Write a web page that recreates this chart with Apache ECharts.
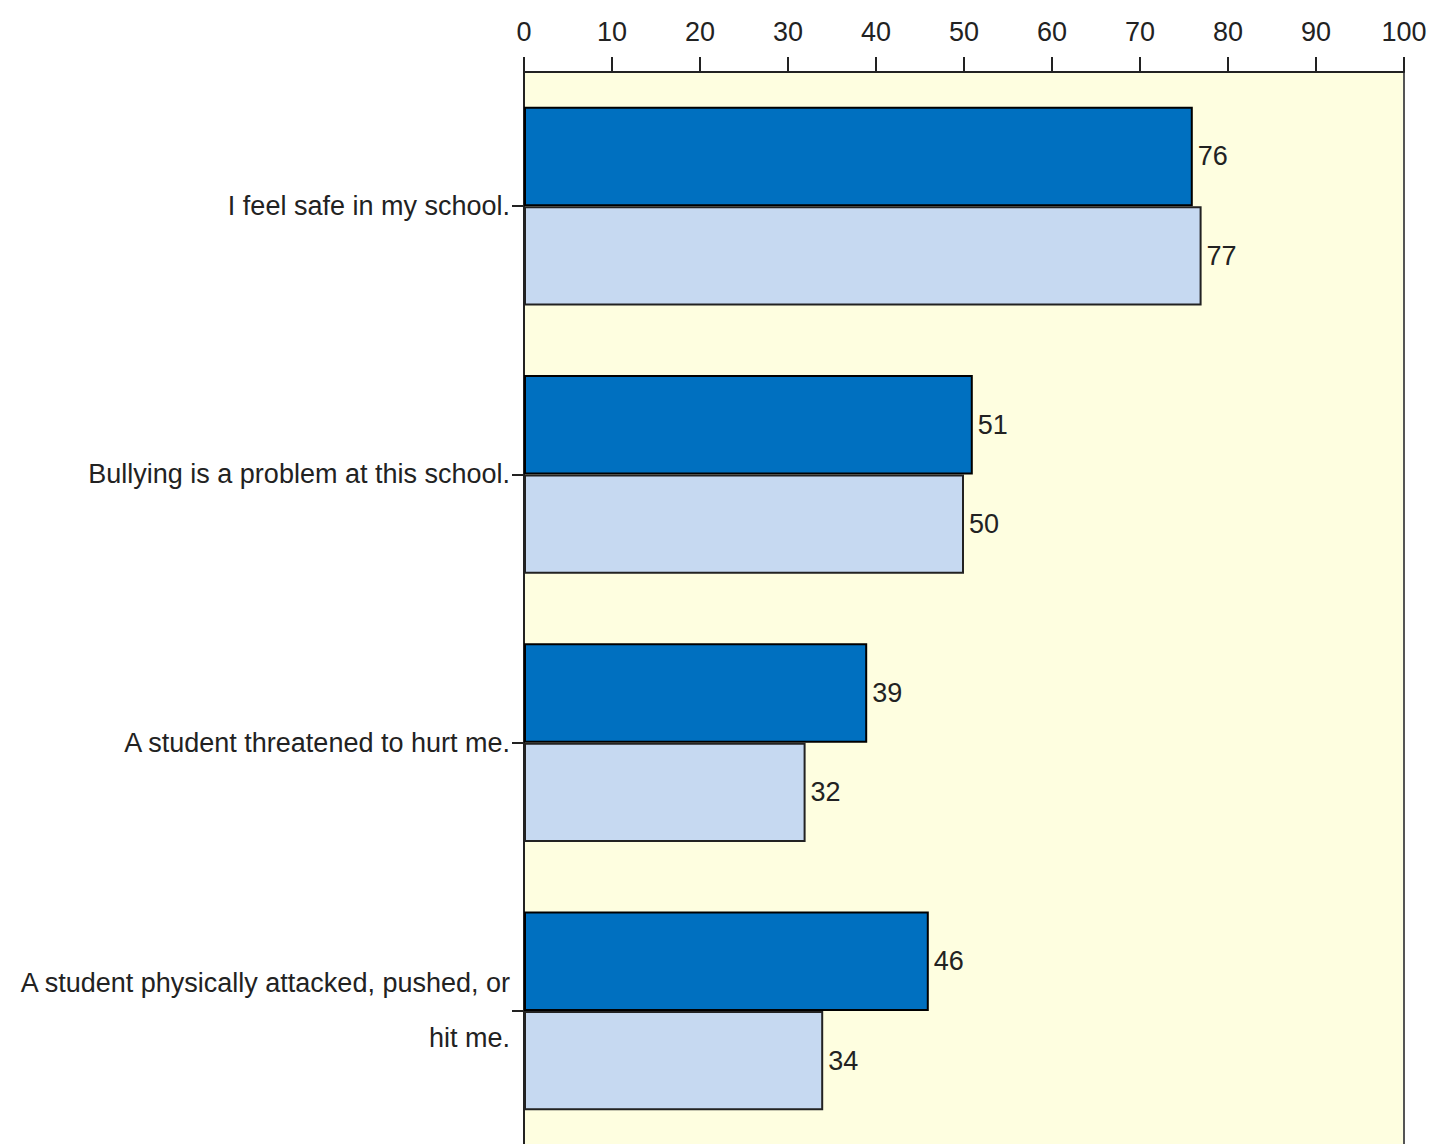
<!DOCTYPE html>
<html>
<head>
<meta charset="utf-8">
<script src="https://cdn.jsdelivr.net/npm/echarts@6/dist/echarts.min.js"></script>
<style>
html,body{margin:0;padding:0;background:#fff;}
#chart{width:1431px;height:1144px;}
</style>
</head>
<body>
<div id="chart"></div>
<script>
const categories = [
  "I feel safe in my school.",
  "Bullying is a problem at this school.",
  "A student threatened to hurt me.",
  "A student physically attacked, pushed, or\nhit me."
];
const seriesA = [76, 51, 39, 46];
const seriesB = [77, 50, 32, 34];
const xTicks = { min: 0, max: 100, interval: 10 };

const FONT = '"Liberation Sans", sans-serif';
const chart = echarts.init(document.getElementById('chart'), null, { renderer: 'svg' });
chart.setOption({
  animation: false,
  backgroundColor: '#ffffff',
  grid: {
    left: 524, right: 27, top: 72, height: 1073,
    containLabel: false, outerBoundsMode: 'none',
    show: true, backgroundColor: '#FEFEE0', borderColor: '#555', borderWidth: 2
  },
  xAxis: {
    type: 'value', position: 'top',
    min: xTicks.min, max: xTicks.max, interval: xTicks.interval,
    splitLine: { show: false },
    axisLine: { show: true, lineStyle: { color: '#222', width: 2 } },
    axisTick: { show: true, length: 15, lineStyle: { color: '#222', width: 2 } },
    axisLabel: { color: '#222', fontSize: 27, fontFamily: FONT, margin: 27 }
  },
  yAxis: {
    type: 'category', inverse: true, data: categories,
    axisLine: { show: true, lineStyle: { color: '#222', width: 2 } },
    axisTick: { show: true, alignWithLabel: true, length: 12, lineStyle: { color: '#222', width: 2 } },
    axisLabel: { color: '#222', fontSize: 27, fontFamily: FONT, margin: 14, lineHeight: 55, align: 'right' }
  },
  series: [
    {
      name: 'Series 1', type: 'bar', data: seriesA,
      barGap: '0%', barCategoryGap: '26%',
      itemStyle: { color: '#0070C0', borderColor: '#000', borderWidth: 2 },
      label: { show: true, position: 'right', distance: 5, color: '#222', fontSize: 27, fontFamily: FONT }
    },
    {
      name: 'Series 2', type: 'bar', data: seriesB,
      barGap: '0%', barCategoryGap: '26%',
      itemStyle: { color: '#C6D9F1', borderColor: '#222', borderWidth: 2 },
      label: { show: true, position: 'right', distance: 5, color: '#222', fontSize: 27, fontFamily: FONT }
    }
  ]
});
</script>
</body>
</html>
